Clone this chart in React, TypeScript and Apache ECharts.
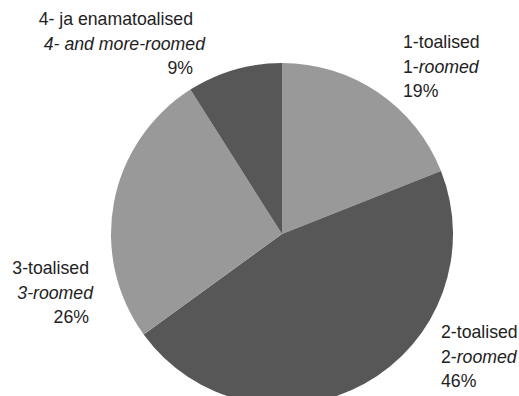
import React, { useEffect, useRef } from "react";
import * as echarts from "echarts";

const categories = ["1-toalised", "2-toalised", "3-toalised", "4- ja enamatoalised"];
const categoriesEnPrefix = ["1-", "2-", "", ""];
const categoriesEn = ["roomed", "roomed", "3-roomed", "4- and more-roomed"];
const shares = [19, 46, 26, 9];

const colors = ["#999999", "#575757", "#999999", "#575757"];

// label placement (style only)
const labelPos = [
  { x: 403, y: 30, align: "left", pad: 0 },
  { x: 441, y: 320, align: "left", pad: 0 },
  { x: 93, y: 256, align: "right", pad: 4 },
  { x: 205, y: 7, align: "right", pad: 12 },
];

const FONT = "'Liberation Sans', Arial, sans-serif";
const FS = 17.7;
const LH = 24.5;

export default function App() {
  const ref = useRef<HTMLDivElement>(null);
  useEffect(() => {
    if (!ref.current) return;
    const chart = echarts.init(ref.current, null, { renderer: "svg" });
    const data = categories.map((name, i) => {
      const lp = labelPos[i];
      const a = lp.align as "left" | "right";
      const rich: any = {
        n: { fontFamily: FONT, fontSize: FS, lineHeight: LH, color: "#222", align: a, padding: [0, lp.pad, 0, 0] },
        u: { fontFamily: FONT, fontSize: FS, lineHeight: LH, color: "#222", align: a },
        i: { fontFamily: FONT, fontSize: FS, lineHeight: LH, color: "#222", fontStyle: "italic", align: a },
      };
      const pre = categoriesEnPrefix[i];
      const line2 = (pre ? `{u|${pre}}` : "") + `{i|${categoriesEn[i]}}`;
      return {
        name,
        value: shares[i],
        itemStyle: { color: colors[i] },
        label: {
          formatter: `{n|${name}}\n${line2}\n{n|${shares[i]}%}`,
          rich,
          overflow: "none",
        },
      };
    });
    chart.setOption({
      animation: false,
      series: [
        {
          type: "pie",
          center: [282, 234],
          radius: 171,
          startAngle: 90,
          clockwise: true,
          silent: true,
          itemStyle: { borderWidth: 0 },
          label: { show: true, position: "outside", color: "#222", overflow: "none", alignTo: "none", edgeDistance: 0, bleedMargin: 0 },
          labelLine: { show: false },
          labelLayout: (params: any) => {
            const lp = labelPos[params.dataIndex];
            return { x: lp.x, y: lp.y, align: lp.align, verticalAlign: "top" };
          },
          data,
        },
      ],
    });
    return () => chart.dispose();
  }, []);
  return (
    <div
      ref={ref}
      style={{ position: "fixed", left: 0, top: 0, width: 519, height: 396, background: "#fff" }}
    />
  );
}
